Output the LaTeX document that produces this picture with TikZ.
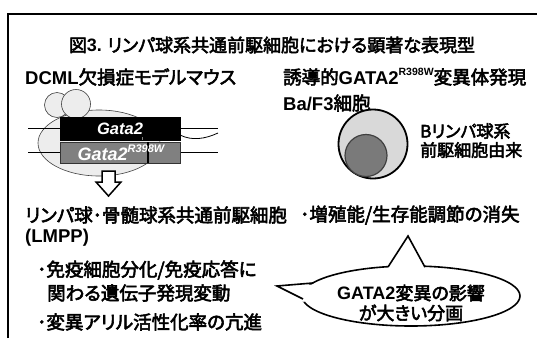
\documentclass[tikz,border=0pt]{standalone}
\usepackage{fontspec}
\setmainfont{Noto Sans CJK JP}[RawFeature=+palt, FakeBold=3]
\newfontfamily\arial{Liberation Sans}
\usetikzlibrary{positioning}

\newcommand{\lat}[1]{{\arial\bfseries #1}}
\newcommand{\supr}[2]{\raisebox{0.45em}{\fontsize{#1}{#1}\selectfont #2}}

\tikzstyle{txt} = [inner sep=0pt, anchor=west, font=\fontsize{18.5}{22}\selectfont]
\tikzstyle{small} = [inner sep=0pt, anchor=west, font=\fontsize{17}{20}\selectfont]
\tikzstyle{genebox} = [draw=black, minimum width=120pt, inner sep=0pt]
\tikzstyle{genetext} = [inner sep=0pt, text=white, font=\arial\bfseries\itshape]
\tikzstyle{mouse} = [draw=black!75, fill=black!7, line width=0.6pt]
\tikzstyle{dna} = [line width=0.8pt]
\tikzstyle{hollow} = [draw=black, fill=white, line width=1.5pt, line join=miter]
\tikzstyle{bubble} = [draw=black, fill=white, line width=1.6pt]

\begin{document}
\begin{tikzpicture}[x=1pt, y=-1pt]
\useasboundingbox (0,0) rectangle (537,338);
\draw[line width=1.6pt] (8,338) -- (8,14) -- (537,14);

\node (title) [inner sep=0pt, font=\fontsize{18}{21}\selectfont] at (272,45)
  {図\lat{3.} リンパ球系共通前駆細胞における顕著な表現型};

% left: model mouse
\node (dcml) [txt] at (25,77) {\lat{DCML}欠損症モデルマウス};
\draw[mouse] (99,143) ellipse [x radius=61pt, y radius=33pt];
\draw[mouse] (57,105) circle [radius=12.5pt];
\draw[mouse] (76,104) circle [radius=14.5pt];
\draw[dna] (28,128) -- (218,128);
\draw[dna] (180,135) .. controls (192,141) and (205,139) .. (218,133);
\draw[dna] (28,152) -- (218,152);
\node (wt) [genebox, fill=black, minimum height=23pt] at (120,128.5) {};
\node (mut) [genebox, draw=black!80, fill=black!50, minimum height=21pt] at (120,152.5) {};
\draw[gray, line width=0.8pt] (142,137) -- (142,140);
\draw[line width=1.5pt] (148,142) -- (148,163);
\node [genetext, font=\arial\bfseries\itshape\fontsize{16.5}{18}\selectfont] at (wt) {Gata2};
\node [genetext, font=\arial\bfseries\itshape\fontsize{18}{20}\selectfont] at (121,152.5)
  {Gata2\supr{11}{R398W}};
\draw[hollow] (102,171) -- (115,171) -- (115,182) -- (121,182) -- (108.5,196)
  -- (96,182) -- (102,182) -- cycle;

% right: Ba/F3 cells
\node (induced) [txt] at (283,77)
  {誘導的\lat{GATA2}\supr{10.5}{\lat{R398W}}変異体発現};
\node (baf3) [txt] at (283,103) {\lat{Ba/F3}細胞};
\draw[fill=black!15, line width=1.8pt] (373,144) circle [radius=34.5pt];
\draw[fill=black!52, draw=black!75, line width=1.2pt] (366,155.5) circle [radius=21pt];
\node (origin1) [small] at (420,131) {Bリンパ球系};
\node (origin2) [small] at (420,150) {前駆細胞由来};

% phenotypes
\node (lmpp) [txt] at (25,215) {リンパ球･骨髄球系共通前駆細胞};
\node (lmppab) [txt] at (25,238) {\lat{(LMPP)}};
\node (item1) [txt] at (37,270) {･免疫細胞分化/免疫応答に};
\node (item1b) [txt] at (47,293) {関わる遺伝子発現変動};
\node (item2) [txt] at (37,322) {･変異アリル活性化率の亢進};
\node (item3) [txt] at (300,215) {･増殖能/生存能調節の消失};

% speech bubble: ellipse, then pointer and tail laid over its outline
\draw[bubble] (411,296) ellipse [x radius=109pt, y radius=30pt];
\coordinate (tip) at (408,236);
\coordinate (tail) at (277,286);
\fill[white] (387,269) -- (tip) -- (426,269) -- cycle;
\draw[line width=1.6pt, line join=miter] (388,267) -- (tip) -- (425,267.2);
\fill[white] (304,302) -- (tail) -- (315,284.5) -- (318,292) -- cycle;
\draw[line width=1.6pt, line join=miter] (303,299) -- (tail) -- (313,283);
\node (effect) [inner sep=0pt, align=center, font=\fontsize{18}{20}\selectfont] at (411,303)
  {\lat{GATA2}変異の影響\\が大きい分画};
\end{tikzpicture}
\end{document}
